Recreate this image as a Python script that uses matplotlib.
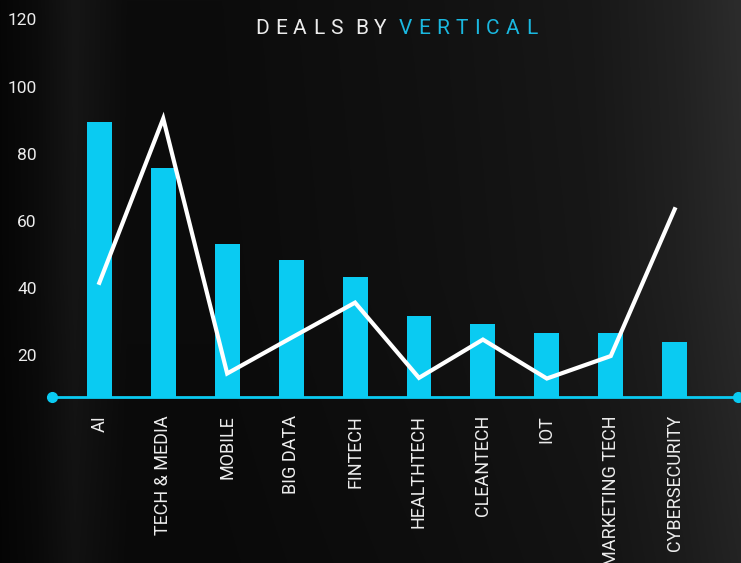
import matplotlib
matplotlib.use('Agg')
import matplotlib.pyplot as plt
import numpy as np

# data
verticals = ['AI', 'TECH & MEDIA', 'MOBILE', 'BIG DATA', 'FINTECH', 'HEALTHTECH',
             'CLEANTECH', 'IOT', 'MARKETING TECH', 'CYBERSECURITY']
deals = [89.5, 75.7, 53.1, 48.3, 43.3, 31.6, 29.3, 26.6, 26.6, 23.9]
trend = [41.6, 90.5, 14.6, 25.2, 35.7, 13.3, 24.7, 13.1, 19.8, 63.5]
y_ticks = [20, 40, 60, 80, 100, 120]

CYAN = '#0acbf2'
CYAN_TITLE = '#1ab8e0'
TXT = '#ececec'

plt.rcParams['font.family'] = ['Roboto', 'DejaVu Sans']

W, H = 741, 563
fig = plt.figure(figsize=(W / 100, H / 100), dpi=100)

# dark background with soft gradient
bg = fig.add_axes([0, 0, 1, 1])
bg.axis('off')
xs = np.linspace(0, 1, 400)
ys = np.linspace(0, 1, 300)[:, None]
prof = np.interp(xs, [0, 0.05, 0.1, 0.17, 0.3, 0.6, 0.8, 0.92, 1.0],
                 [6, 12, 22, 12, 12, 18, 24, 34, 44])
vert = np.interp(ys, [0, 0.5, 1], [1.0, 0.95, 0.8])
lum = (prof[None, :] * vert) / 255.0
img = np.dstack([lum, lum, lum])
bg.imshow(img, aspect='auto', extent=[0, 1, 0, 1], origin='upper')
bg.set_xlim(0, 1)
bg.set_ylim(0, 1)

# main axes
y0, y1 = 7.6, 125.8
xl0, xl1 = -0.74, 9.99
ax = fig.add_axes([52 / W, 1 - 397 / H, 686 / W, 397 / H])
ax.patch.set_alpha(0)
for s in ax.spines.values():
    s.set_visible(False)

x = np.arange(len(verticals))
ax.bar(x, deals, width=0.39, color=CYAN, zorder=2)
ax.plot(x, trend, color='white', lw=3, zorder=3, solid_joinstyle='miter')
ax.plot([xl0, xl1], [y0, y0], color=CYAN, lw=2, marker='o', ms=7,
        clip_on=False, zorder=4)

ax.set_xlim(xl0, xl1)
ax.set_ylim(y0, y1)
ax.set_yticks(y_ticks)
ax.tick_params(axis='y', length=0, pad=11, labelsize=12.5, labelcolor=TXT)
ax.set_xticks(x)
ax.set_xticklabels(verticals, rotation=90)
ax.tick_params(axis='x', length=0, pad=13, labelsize=13, labelcolor=TXT)

# letter-spaced title, two colours
renderer = fig.canvas.get_renderer()
parts = [('DEALS BY ', TXT), ('VERTICAL', CYAN_TITLE)]
size = 15
target = 282
chars = []
for word, col in parts:
    for ch in word:
        chars.append((ch, col))
widths = []
for ch, col in chars:
    if ch == ' ':
        widths.append(0)
        continue
    t = fig.text(0, 0, ch, fontsize=size)
    widths.append(t.get_window_extent(renderer).width)
    t.remove()
track = (target - sum(widths)) / (len(chars) - 1)
cx = 396 - target / 2
for (ch, col), w in zip(chars, widths):
    if ch != ' ':
        fig.text(cx / W, 1 - 29 / H, ch, fontsize=size, color=col,
                 ha='left', va='center')
    cx += w + track

fig.savefig('out.png', dpi=100)
